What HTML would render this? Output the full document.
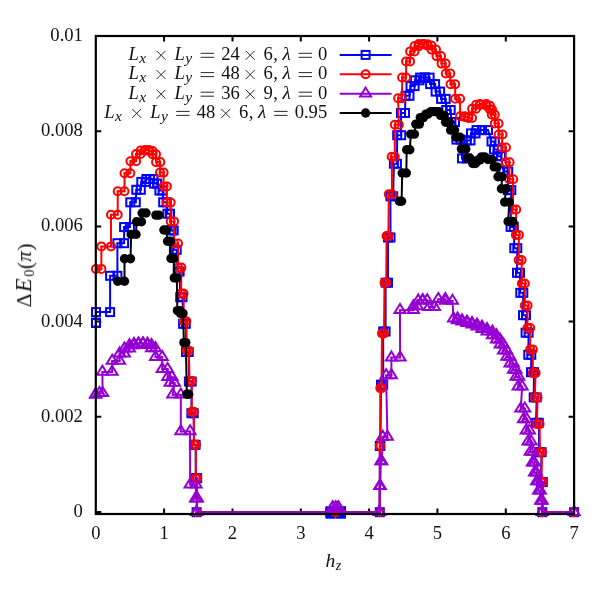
<!DOCTYPE html>
<html><head><meta charset="utf-8"><title>chart</title>
<style>html,body{margin:0;padding:0;background:#fff}body{width:598px;height:598px;position:relative;overflow:hidden;font-family:"Liberation Serif",serif}</style>
</head><body>
<svg width="598" height="598" viewBox="0 0 598 598" style="position:absolute;left:0;top:0">
<path d="M164.1 514.0V508.5M164.1 36.0V41.5M232.5 514.0V508.5M232.5 36.0V41.5M300.8 514.0V508.5M300.8 36.0V41.5M369.1 514.0V508.5M369.1 36.0V41.5M437.4 514.0V508.5M437.4 36.0V41.5M505.8 514.0V508.5M505.8 36.0V41.5M95.8 512.0H101.3M574.1 512.0H568.6M95.8 416.8H101.3M574.1 416.8H568.6M95.8 321.6H101.3M574.1 321.6H568.6M95.8 226.4H101.3M574.1 226.4H568.6M95.8 131.2H101.3M574.1 131.2H568.6M95.8 36.0H101.3M574.1 36.0H568.6" stroke="#000" stroke-width="2.0" fill="none"/>
<polyline fill="none" stroke="#0000ff" stroke-width="2.00" stroke-linejoin="miter" points="96.0,322.8 96.0,322.8 96.0,312.1 110.1,312.1 110.1,275.8 117.4,275.8 117.4,243.2 124.1,243.2 124.1,227.1 129.9,227.1 130.3,202.3 135.8,202.3 136.3,189.8 140.8,189.8 141.3,181.9 145.6,181.9 146.4,179.0 149.8,179.0 150.0,179.0 153.4,179.0 154.0,183.6 157.1,183.6 159.4,190.5 162.6,190.5 163.2,202.3 166.6,202.3 167.4,213.7 170.0,213.7 171.6,230.4 173.7,230.4 173.9,249.8 176.7,249.8 177.7,271.5 179.6,271.5 180.2,297.2 182.5,297.2 183.1,323.8 185.8,323.8 186.0,352.0 188.7,352.0 188.9,381.5 191.7,381.5 191.4,413.2 193.7,413.2 193.9,444.8 195.6,444.8 195.8,478.2 197.2,478.2 196.6,512.2 330.5,512.2 330.5,511.2 330.5,513.7 335.5,512.2 341.0,513.7 341.0,511.2 341.0,512.2 379.8,512.2 379.8,446.0 380.4,446.0 381.0,384.7 383.2,384.7 383.2,331.5 385.6,331.5 385.6,282.7 388.0,282.7 388.0,237.5 390.5,237.5 390.4,196.3 393.2,196.3 393.9,163.7 396.9,163.7 397.2,135.2 401.2,135.2 401.0,113.0 405.0,113.0 405.5,95.8 409.5,95.8 410.5,86.1 414.6,86.1 415.0,80.3 419.5,80.3 420.1,77.6 424.8,77.6 424.8,77.6 429.6,77.6 430.1,84.1 435.1,84.1 435.6,91.6 440.1,91.6 441.1,98.9 445.7,98.9 446.2,110.0 450.7,110.0 451.4,122.0 455.0,122.0 456.4,139.6 460.6,139.6 462.0,158.4 467.0,158.4 466.8,140.4 470.5,140.4 471.0,133.4 475.5,133.4 476.5,130.1 482.0,130.1 482.0,130.1 488.0,130.1 491.5,141.5 494.8,141.5 494.0,149.5 497.5,149.5 497.5,156.2 501.0,156.2 503.5,171.5 508.2,171.5 507.8,190.1 511.3,190.1 510.6,226.9 513.8,226.9 514.3,248.2 517.3,248.2 517.0,272.8 520.0,272.8 520.3,292.8 523.3,292.8 523.0,315.2 526.0,315.2 525.6,332.7 528.6,332.7 528.3,354.8 531.3,354.8 531.0,372.2 534.0,372.2 533.7,397.4 536.7,397.4 536.0,422.8 538.8,422.8 539.2,452.2 541.6,452.2 540.8,482.1 542.8,482.1 542.3,512.2 574.1,512.2"/>
<g fill="none" stroke="#0000ff" stroke-width="2.00"><rect x="92.0" y="318.8" width="8.0" height="8.0"/><rect x="92.0" y="318.8" width="8.0" height="8.0"/><rect x="92.0" y="308.1" width="8.0" height="8.0"/><rect x="106.1" y="308.1" width="8.0" height="8.0"/><rect x="106.1" y="271.8" width="8.0" height="8.0"/><rect x="113.4" y="271.8" width="8.0" height="8.0"/><rect x="113.4" y="239.2" width="8.0" height="8.0"/><rect x="120.1" y="239.2" width="8.0" height="8.0"/><rect x="120.1" y="223.1" width="8.0" height="8.0"/><rect x="125.9" y="223.1" width="8.0" height="8.0"/><rect x="126.3" y="198.3" width="8.0" height="8.0"/><rect x="131.8" y="198.3" width="8.0" height="8.0"/><rect x="132.3" y="185.8" width="8.0" height="8.0"/><rect x="136.8" y="185.8" width="8.0" height="8.0"/><rect x="137.3" y="177.9" width="8.0" height="8.0"/><rect x="141.6" y="177.9" width="8.0" height="8.0"/><rect x="142.4" y="175.0" width="8.0" height="8.0"/><rect x="145.8" y="175.0" width="8.0" height="8.0"/><rect x="146.0" y="175.0" width="8.0" height="8.0"/><rect x="149.4" y="175.0" width="8.0" height="8.0"/><rect x="150.0" y="179.6" width="8.0" height="8.0"/><rect x="153.1" y="179.6" width="8.0" height="8.0"/><rect x="155.4" y="186.5" width="8.0" height="8.0"/><rect x="158.6" y="186.5" width="8.0" height="8.0"/><rect x="159.2" y="198.3" width="8.0" height="8.0"/><rect x="162.6" y="198.3" width="8.0" height="8.0"/><rect x="163.4" y="209.7" width="8.0" height="8.0"/><rect x="166.0" y="209.7" width="8.0" height="8.0"/><rect x="167.6" y="226.4" width="8.0" height="8.0"/><rect x="169.7" y="226.4" width="8.0" height="8.0"/><rect x="169.9" y="245.8" width="8.0" height="8.0"/><rect x="172.7" y="245.8" width="8.0" height="8.0"/><rect x="173.7" y="267.5" width="8.0" height="8.0"/><rect x="175.6" y="267.5" width="8.0" height="8.0"/><rect x="176.2" y="293.2" width="8.0" height="8.0"/><rect x="178.5" y="293.2" width="8.0" height="8.0"/><rect x="179.1" y="319.8" width="8.0" height="8.0"/><rect x="181.8" y="319.8" width="8.0" height="8.0"/><rect x="182.0" y="348.0" width="8.0" height="8.0"/><rect x="184.7" y="348.0" width="8.0" height="8.0"/><rect x="184.9" y="377.5" width="8.0" height="8.0"/><rect x="187.7" y="377.5" width="8.0" height="8.0"/><rect x="187.4" y="409.2" width="8.0" height="8.0"/><rect x="189.7" y="409.2" width="8.0" height="8.0"/><rect x="189.9" y="440.8" width="8.0" height="8.0"/><rect x="191.6" y="440.8" width="8.0" height="8.0"/><rect x="191.8" y="474.2" width="8.0" height="8.0"/><rect x="193.2" y="474.2" width="8.0" height="8.0"/><rect x="192.6" y="508.2" width="8.0" height="8.0"/><rect x="326.5" y="508.2" width="8.0" height="8.0"/><rect x="326.5" y="507.2" width="8.0" height="8.0"/><rect x="326.5" y="509.7" width="8.0" height="8.0"/><rect x="331.5" y="508.2" width="8.0" height="8.0"/><rect x="337.0" y="509.7" width="8.0" height="8.0"/><rect x="337.0" y="507.2" width="8.0" height="8.0"/><rect x="337.0" y="508.2" width="8.0" height="8.0"/><rect x="375.8" y="508.2" width="8.0" height="8.0"/><rect x="375.8" y="442.0" width="8.0" height="8.0"/><rect x="376.4" y="442.0" width="8.0" height="8.0"/><rect x="377.0" y="380.7" width="8.0" height="8.0"/><rect x="379.2" y="380.7" width="8.0" height="8.0"/><rect x="379.2" y="327.5" width="8.0" height="8.0"/><rect x="381.6" y="327.5" width="8.0" height="8.0"/><rect x="381.6" y="278.7" width="8.0" height="8.0"/><rect x="384.0" y="278.7" width="8.0" height="8.0"/><rect x="384.0" y="233.5" width="8.0" height="8.0"/><rect x="386.5" y="233.5" width="8.0" height="8.0"/><rect x="386.4" y="192.3" width="8.0" height="8.0"/><rect x="389.2" y="192.3" width="8.0" height="8.0"/><rect x="389.9" y="159.7" width="8.0" height="8.0"/><rect x="392.9" y="159.7" width="8.0" height="8.0"/><rect x="393.2" y="131.2" width="8.0" height="8.0"/><rect x="397.2" y="131.2" width="8.0" height="8.0"/><rect x="397.0" y="109.0" width="8.0" height="8.0"/><rect x="401.0" y="109.0" width="8.0" height="8.0"/><rect x="401.5" y="91.8" width="8.0" height="8.0"/><rect x="405.5" y="91.8" width="8.0" height="8.0"/><rect x="406.5" y="82.1" width="8.0" height="8.0"/><rect x="410.6" y="82.1" width="8.0" height="8.0"/><rect x="411.0" y="76.3" width="8.0" height="8.0"/><rect x="415.5" y="76.3" width="8.0" height="8.0"/><rect x="416.1" y="73.6" width="8.0" height="8.0"/><rect x="420.8" y="73.6" width="8.0" height="8.0"/><rect x="420.8" y="73.6" width="8.0" height="8.0"/><rect x="425.6" y="73.6" width="8.0" height="8.0"/><rect x="426.1" y="80.1" width="8.0" height="8.0"/><rect x="431.1" y="80.1" width="8.0" height="8.0"/><rect x="431.6" y="87.6" width="8.0" height="8.0"/><rect x="436.1" y="87.6" width="8.0" height="8.0"/><rect x="437.1" y="94.9" width="8.0" height="8.0"/><rect x="441.7" y="94.9" width="8.0" height="8.0"/><rect x="442.2" y="106.0" width="8.0" height="8.0"/><rect x="446.7" y="106.0" width="8.0" height="8.0"/><rect x="447.4" y="118.0" width="8.0" height="8.0"/><rect x="451.0" y="118.0" width="8.0" height="8.0"/><rect x="452.4" y="135.6" width="8.0" height="8.0"/><rect x="456.6" y="135.6" width="8.0" height="8.0"/><rect x="458.0" y="154.4" width="8.0" height="8.0"/><rect x="463.0" y="154.4" width="8.0" height="8.0"/><rect x="462.8" y="136.4" width="8.0" height="8.0"/><rect x="466.5" y="136.4" width="8.0" height="8.0"/><rect x="467.0" y="129.4" width="8.0" height="8.0"/><rect x="471.5" y="129.4" width="8.0" height="8.0"/><rect x="472.5" y="126.1" width="8.0" height="8.0"/><rect x="478.0" y="126.1" width="8.0" height="8.0"/><rect x="478.0" y="126.1" width="8.0" height="8.0"/><rect x="484.0" y="126.1" width="8.0" height="8.0"/><rect x="487.5" y="137.5" width="8.0" height="8.0"/><rect x="490.8" y="137.5" width="8.0" height="8.0"/><rect x="490.0" y="145.5" width="8.0" height="8.0"/><rect x="493.5" y="145.5" width="8.0" height="8.0"/><rect x="493.5" y="152.2" width="8.0" height="8.0"/><rect x="497.0" y="152.2" width="8.0" height="8.0"/><rect x="499.5" y="167.5" width="8.0" height="8.0"/><rect x="504.2" y="167.5" width="8.0" height="8.0"/><rect x="503.8" y="186.1" width="8.0" height="8.0"/><rect x="507.3" y="186.1" width="8.0" height="8.0"/><rect x="506.6" y="222.9" width="8.0" height="8.0"/><rect x="509.8" y="222.9" width="8.0" height="8.0"/><rect x="510.3" y="244.2" width="8.0" height="8.0"/><rect x="513.3" y="244.2" width="8.0" height="8.0"/><rect x="513.0" y="268.8" width="8.0" height="8.0"/><rect x="516.0" y="268.8" width="8.0" height="8.0"/><rect x="516.3" y="288.8" width="8.0" height="8.0"/><rect x="519.3" y="288.8" width="8.0" height="8.0"/><rect x="519.0" y="311.2" width="8.0" height="8.0"/><rect x="522.0" y="311.2" width="8.0" height="8.0"/><rect x="521.6" y="328.7" width="8.0" height="8.0"/><rect x="524.6" y="328.7" width="8.0" height="8.0"/><rect x="524.3" y="350.8" width="8.0" height="8.0"/><rect x="527.3" y="350.8" width="8.0" height="8.0"/><rect x="527.0" y="368.2" width="8.0" height="8.0"/><rect x="530.0" y="368.2" width="8.0" height="8.0"/><rect x="529.7" y="393.4" width="8.0" height="8.0"/><rect x="532.7" y="393.4" width="8.0" height="8.0"/><rect x="532.0" y="418.8" width="8.0" height="8.0"/><rect x="534.8" y="418.8" width="8.0" height="8.0"/><rect x="535.2" y="448.2" width="8.0" height="8.0"/><rect x="537.6" y="448.2" width="8.0" height="8.0"/><rect x="536.8" y="478.1" width="8.0" height="8.0"/><rect x="538.8" y="478.1" width="8.0" height="8.0"/><rect x="538.3" y="508.2" width="8.0" height="8.0"/><rect x="570.1" y="508.2" width="8.0" height="8.0"/></g><g fill="#0000ff"><circle cx="96.0" cy="322.8" r="0.9"/><circle cx="96.0" cy="322.8" r="0.9"/><circle cx="96.0" cy="312.1" r="0.9"/><circle cx="110.1" cy="312.1" r="0.9"/><circle cx="110.1" cy="275.8" r="0.9"/><circle cx="117.4" cy="275.8" r="0.9"/><circle cx="117.4" cy="243.2" r="0.9"/><circle cx="124.1" cy="243.2" r="0.9"/><circle cx="124.1" cy="227.1" r="0.9"/><circle cx="129.9" cy="227.1" r="0.9"/><circle cx="130.3" cy="202.3" r="0.9"/><circle cx="135.8" cy="202.3" r="0.9"/><circle cx="136.3" cy="189.8" r="0.9"/><circle cx="140.8" cy="189.8" r="0.9"/><circle cx="141.3" cy="181.9" r="0.9"/><circle cx="145.6" cy="181.9" r="0.9"/><circle cx="146.4" cy="179.0" r="0.9"/><circle cx="149.8" cy="179.0" r="0.9"/><circle cx="150.0" cy="179.0" r="0.9"/><circle cx="153.4" cy="179.0" r="0.9"/><circle cx="154.0" cy="183.6" r="0.9"/><circle cx="157.1" cy="183.6" r="0.9"/><circle cx="159.4" cy="190.5" r="0.9"/><circle cx="162.6" cy="190.5" r="0.9"/><circle cx="163.2" cy="202.3" r="0.9"/><circle cx="166.6" cy="202.3" r="0.9"/><circle cx="167.4" cy="213.7" r="0.9"/><circle cx="170.0" cy="213.7" r="0.9"/><circle cx="171.6" cy="230.4" r="0.9"/><circle cx="173.7" cy="230.4" r="0.9"/><circle cx="173.9" cy="249.8" r="0.9"/><circle cx="176.7" cy="249.8" r="0.9"/><circle cx="177.7" cy="271.5" r="0.9"/><circle cx="179.6" cy="271.5" r="0.9"/><circle cx="180.2" cy="297.2" r="0.9"/><circle cx="182.5" cy="297.2" r="0.9"/><circle cx="183.1" cy="323.8" r="0.9"/><circle cx="185.8" cy="323.8" r="0.9"/><circle cx="186.0" cy="352.0" r="0.9"/><circle cx="188.7" cy="352.0" r="0.9"/><circle cx="188.9" cy="381.5" r="0.9"/><circle cx="191.7" cy="381.5" r="0.9"/><circle cx="191.4" cy="413.2" r="0.9"/><circle cx="193.7" cy="413.2" r="0.9"/><circle cx="193.9" cy="444.8" r="0.9"/><circle cx="195.6" cy="444.8" r="0.9"/><circle cx="195.8" cy="478.2" r="0.9"/><circle cx="197.2" cy="478.2" r="0.9"/><circle cx="196.6" cy="512.2" r="0.9"/><circle cx="330.5" cy="512.2" r="0.9"/><circle cx="330.5" cy="511.2" r="0.9"/><circle cx="330.5" cy="513.7" r="0.9"/><circle cx="335.5" cy="512.2" r="0.9"/><circle cx="341.0" cy="513.7" r="0.9"/><circle cx="341.0" cy="511.2" r="0.9"/><circle cx="341.0" cy="512.2" r="0.9"/><circle cx="379.8" cy="512.2" r="0.9"/><circle cx="379.8" cy="446.0" r="0.9"/><circle cx="380.4" cy="446.0" r="0.9"/><circle cx="381.0" cy="384.7" r="0.9"/><circle cx="383.2" cy="384.7" r="0.9"/><circle cx="383.2" cy="331.5" r="0.9"/><circle cx="385.6" cy="331.5" r="0.9"/><circle cx="385.6" cy="282.7" r="0.9"/><circle cx="388.0" cy="282.7" r="0.9"/><circle cx="388.0" cy="237.5" r="0.9"/><circle cx="390.5" cy="237.5" r="0.9"/><circle cx="390.4" cy="196.3" r="0.9"/><circle cx="393.2" cy="196.3" r="0.9"/><circle cx="393.9" cy="163.7" r="0.9"/><circle cx="396.9" cy="163.7" r="0.9"/><circle cx="397.2" cy="135.2" r="0.9"/><circle cx="401.2" cy="135.2" r="0.9"/><circle cx="401.0" cy="113.0" r="0.9"/><circle cx="405.0" cy="113.0" r="0.9"/><circle cx="405.5" cy="95.8" r="0.9"/><circle cx="409.5" cy="95.8" r="0.9"/><circle cx="410.5" cy="86.1" r="0.9"/><circle cx="414.6" cy="86.1" r="0.9"/><circle cx="415.0" cy="80.3" r="0.9"/><circle cx="419.5" cy="80.3" r="0.9"/><circle cx="420.1" cy="77.6" r="0.9"/><circle cx="424.8" cy="77.6" r="0.9"/><circle cx="424.8" cy="77.6" r="0.9"/><circle cx="429.6" cy="77.6" r="0.9"/><circle cx="430.1" cy="84.1" r="0.9"/><circle cx="435.1" cy="84.1" r="0.9"/><circle cx="435.6" cy="91.6" r="0.9"/><circle cx="440.1" cy="91.6" r="0.9"/><circle cx="441.1" cy="98.9" r="0.9"/><circle cx="445.7" cy="98.9" r="0.9"/><circle cx="446.2" cy="110.0" r="0.9"/><circle cx="450.7" cy="110.0" r="0.9"/><circle cx="451.4" cy="122.0" r="0.9"/><circle cx="455.0" cy="122.0" r="0.9"/><circle cx="456.4" cy="139.6" r="0.9"/><circle cx="460.6" cy="139.6" r="0.9"/><circle cx="462.0" cy="158.4" r="0.9"/><circle cx="467.0" cy="158.4" r="0.9"/><circle cx="466.8" cy="140.4" r="0.9"/><circle cx="470.5" cy="140.4" r="0.9"/><circle cx="471.0" cy="133.4" r="0.9"/><circle cx="475.5" cy="133.4" r="0.9"/><circle cx="476.5" cy="130.1" r="0.9"/><circle cx="482.0" cy="130.1" r="0.9"/><circle cx="482.0" cy="130.1" r="0.9"/><circle cx="488.0" cy="130.1" r="0.9"/><circle cx="491.5" cy="141.5" r="0.9"/><circle cx="494.8" cy="141.5" r="0.9"/><circle cx="494.0" cy="149.5" r="0.9"/><circle cx="497.5" cy="149.5" r="0.9"/><circle cx="497.5" cy="156.2" r="0.9"/><circle cx="501.0" cy="156.2" r="0.9"/><circle cx="503.5" cy="171.5" r="0.9"/><circle cx="508.2" cy="171.5" r="0.9"/><circle cx="507.8" cy="190.1" r="0.9"/><circle cx="511.3" cy="190.1" r="0.9"/><circle cx="510.6" cy="226.9" r="0.9"/><circle cx="513.8" cy="226.9" r="0.9"/><circle cx="514.3" cy="248.2" r="0.9"/><circle cx="517.3" cy="248.2" r="0.9"/><circle cx="517.0" cy="272.8" r="0.9"/><circle cx="520.0" cy="272.8" r="0.9"/><circle cx="520.3" cy="292.8" r="0.9"/><circle cx="523.3" cy="292.8" r="0.9"/><circle cx="523.0" cy="315.2" r="0.9"/><circle cx="526.0" cy="315.2" r="0.9"/><circle cx="525.6" cy="332.7" r="0.9"/><circle cx="528.6" cy="332.7" r="0.9"/><circle cx="528.3" cy="354.8" r="0.9"/><circle cx="531.3" cy="354.8" r="0.9"/><circle cx="531.0" cy="372.2" r="0.9"/><circle cx="534.0" cy="372.2" r="0.9"/><circle cx="533.7" cy="397.4" r="0.9"/><circle cx="536.7" cy="397.4" r="0.9"/><circle cx="536.0" cy="422.8" r="0.9"/><circle cx="538.8" cy="422.8" r="0.9"/><circle cx="539.2" cy="452.2" r="0.9"/><circle cx="541.6" cy="452.2" r="0.9"/><circle cx="540.8" cy="482.1" r="0.9"/><circle cx="542.8" cy="482.1" r="0.9"/><circle cx="542.3" cy="512.2" r="0.9"/><circle cx="574.1" cy="512.2" r="0.9"/></g>
<polyline fill="none" stroke="#ff0000" stroke-width="2.00" stroke-linejoin="miter" points="96.0,268.9 101.4,268.9 101.4,246.4 111.0,246.4 111.0,214.7 117.7,214.7 117.7,191.2 124.5,191.2 124.5,173.2 130.3,173.2 130.4,161.2 136.1,161.2 136.1,154.0 140.6,154.0 140.6,150.5 145.1,150.5 145.1,150.0 149.1,150.0 149.1,151.0 152.6,151.0 152.6,154.2 156.0,154.2 156.0,162.1 160.3,162.1 160.0,172.6 163.6,172.6 163.6,186.4 166.9,186.4 166.7,202.6 170.7,202.6 170.7,221.4 174.1,221.4 174.1,243.5 178.1,243.5 178.1,267.6 181.4,267.6 181.0,293.6 183.6,293.6 183.8,321.3 186.3,321.3 186.7,350.5 188.8,350.5 189.6,380.9 191.7,380.9 191.7,411.8 193.8,411.8 194.0,444.8 196.0,444.8 195.8,478.2 197.2,478.2 196.8,512.2 335.5,512.2 335.5,512.2 379.8,512.2 379.8,446.0 380.2,446.0 380.3,388.1 381.5,388.1 382.0,333.5 384.0,333.5 384.5,282.7 386.2,282.7 386.6,236.1 388.4,236.1 388.8,194.2 392.1,194.2 391.7,156.8 394.8,156.8 394.8,124.7 398.8,124.7 398.1,98.2 402.1,98.2 402.1,77.5 406.1,77.5 406.1,61.4 410.1,61.4 410.1,51.4 414.6,51.4 414.6,46.1 418.8,46.1 418.8,44.0 423.2,44.0 423.2,44.2 427.5,44.2 427.5,45.6 431.5,45.6 431.5,49.6 436.0,49.6 436.5,56.1 441.0,56.1 441.5,63.6 445.6,63.6 445.8,73.5 450.3,73.5 450.5,84.2 455.2,84.2 455.2,98.8 460.1,98.8 460.1,116.2 464.7,116.2 464.7,116.9 468.3,116.9 468.3,118.0 472.1,118.0 472.1,108.8 476.1,108.8 476.1,104.8 480.1,104.8 480.1,104.1 486.2,104.1 486.2,105.8 490.0,105.8 490.0,109.5 492.0,109.5 491.8,114.8 494.8,114.8 494.8,123.5 498.6,123.5 498.6,134.5 502.5,134.5 501.8,147.5 506.0,147.5 505.6,162.2 509.6,162.2 509.2,179.2 513.2,179.2 512.8,209.5 516.2,209.5 515.9,234.9 518.9,234.9 518.7,260.1 521.6,260.1 521.9,283.5 524.8,283.5 524.8,305.6 527.6,305.6 527.4,328.1 530.2,328.1 530.1,349.5 532.9,349.5 532.8,372.9 535.6,372.9 534.8,397.4 537.6,397.4 536.9,424.1 539.6,424.1 540.0,452.2 542.0,452.2 541.5,482.1 543.0,482.1 542.3,512.2 574.1,512.2"/>
<g fill="none" stroke="#ff0000" stroke-width="2.00"><circle cx="96.0" cy="268.9" r="4.0"/><circle cx="101.4" cy="268.9" r="4.0"/><circle cx="101.4" cy="246.4" r="4.0"/><circle cx="111.0" cy="246.4" r="4.0"/><circle cx="111.0" cy="214.7" r="4.0"/><circle cx="117.7" cy="214.7" r="4.0"/><circle cx="117.7" cy="191.2" r="4.0"/><circle cx="124.5" cy="191.2" r="4.0"/><circle cx="124.5" cy="173.2" r="4.0"/><circle cx="130.3" cy="173.2" r="4.0"/><circle cx="130.4" cy="161.2" r="4.0"/><circle cx="136.1" cy="161.2" r="4.0"/><circle cx="136.1" cy="154.0" r="4.0"/><circle cx="140.6" cy="154.0" r="4.0"/><circle cx="140.6" cy="150.5" r="4.0"/><circle cx="145.1" cy="150.5" r="4.0"/><circle cx="145.1" cy="150.0" r="4.0"/><circle cx="149.1" cy="150.0" r="4.0"/><circle cx="149.1" cy="151.0" r="4.0"/><circle cx="152.6" cy="151.0" r="4.0"/><circle cx="152.6" cy="154.2" r="4.0"/><circle cx="156.0" cy="154.2" r="4.0"/><circle cx="156.0" cy="162.1" r="4.0"/><circle cx="160.3" cy="162.1" r="4.0"/><circle cx="160.0" cy="172.6" r="4.0"/><circle cx="163.6" cy="172.6" r="4.0"/><circle cx="163.6" cy="186.4" r="4.0"/><circle cx="166.9" cy="186.4" r="4.0"/><circle cx="166.7" cy="202.6" r="4.0"/><circle cx="170.7" cy="202.6" r="4.0"/><circle cx="170.7" cy="221.4" r="4.0"/><circle cx="174.1" cy="221.4" r="4.0"/><circle cx="174.1" cy="243.5" r="4.0"/><circle cx="178.1" cy="243.5" r="4.0"/><circle cx="178.1" cy="267.6" r="4.0"/><circle cx="181.4" cy="267.6" r="4.0"/><circle cx="181.0" cy="293.6" r="4.0"/><circle cx="183.6" cy="293.6" r="4.0"/><circle cx="183.8" cy="321.3" r="4.0"/><circle cx="186.3" cy="321.3" r="4.0"/><circle cx="186.7" cy="350.5" r="4.0"/><circle cx="188.8" cy="350.5" r="4.0"/><circle cx="189.6" cy="380.9" r="4.0"/><circle cx="191.7" cy="380.9" r="4.0"/><circle cx="191.7" cy="411.8" r="4.0"/><circle cx="193.8" cy="411.8" r="4.0"/><circle cx="194.0" cy="444.8" r="4.0"/><circle cx="196.0" cy="444.8" r="4.0"/><circle cx="195.8" cy="478.2" r="4.0"/><circle cx="197.2" cy="478.2" r="4.0"/><circle cx="196.8" cy="512.2" r="4.0"/><circle cx="335.5" cy="512.2" r="4.0"/><circle cx="335.5" cy="512.2" r="4.0"/><circle cx="379.8" cy="512.2" r="4.0"/><circle cx="379.8" cy="446.0" r="4.0"/><circle cx="380.2" cy="446.0" r="4.0"/><circle cx="380.3" cy="388.1" r="4.0"/><circle cx="381.5" cy="388.1" r="4.0"/><circle cx="382.0" cy="333.5" r="4.0"/><circle cx="384.0" cy="333.5" r="4.0"/><circle cx="384.5" cy="282.7" r="4.0"/><circle cx="386.2" cy="282.7" r="4.0"/><circle cx="386.6" cy="236.1" r="4.0"/><circle cx="388.4" cy="236.1" r="4.0"/><circle cx="388.8" cy="194.2" r="4.0"/><circle cx="392.1" cy="194.2" r="4.0"/><circle cx="391.7" cy="156.8" r="4.0"/><circle cx="394.8" cy="156.8" r="4.0"/><circle cx="394.8" cy="124.7" r="4.0"/><circle cx="398.8" cy="124.7" r="4.0"/><circle cx="398.1" cy="98.2" r="4.0"/><circle cx="402.1" cy="98.2" r="4.0"/><circle cx="402.1" cy="77.5" r="4.0"/><circle cx="406.1" cy="77.5" r="4.0"/><circle cx="406.1" cy="61.4" r="4.0"/><circle cx="410.1" cy="61.4" r="4.0"/><circle cx="410.1" cy="51.4" r="4.0"/><circle cx="414.6" cy="51.4" r="4.0"/><circle cx="414.6" cy="46.1" r="4.0"/><circle cx="418.8" cy="46.1" r="4.0"/><circle cx="418.8" cy="44.0" r="4.0"/><circle cx="423.2" cy="44.0" r="4.0"/><circle cx="423.2" cy="44.2" r="4.0"/><circle cx="427.5" cy="44.2" r="4.0"/><circle cx="427.5" cy="45.6" r="4.0"/><circle cx="431.5" cy="45.6" r="4.0"/><circle cx="431.5" cy="49.6" r="4.0"/><circle cx="436.0" cy="49.6" r="4.0"/><circle cx="436.5" cy="56.1" r="4.0"/><circle cx="441.0" cy="56.1" r="4.0"/><circle cx="441.5" cy="63.6" r="4.0"/><circle cx="445.6" cy="63.6" r="4.0"/><circle cx="445.8" cy="73.5" r="4.0"/><circle cx="450.3" cy="73.5" r="4.0"/><circle cx="450.5" cy="84.2" r="4.0"/><circle cx="455.2" cy="84.2" r="4.0"/><circle cx="455.2" cy="98.8" r="4.0"/><circle cx="460.1" cy="98.8" r="4.0"/><circle cx="460.1" cy="116.2" r="4.0"/><circle cx="464.7" cy="116.2" r="4.0"/><circle cx="464.7" cy="116.9" r="4.0"/><circle cx="468.3" cy="116.9" r="4.0"/><circle cx="468.3" cy="118.0" r="4.0"/><circle cx="472.1" cy="118.0" r="4.0"/><circle cx="472.1" cy="108.8" r="4.0"/><circle cx="476.1" cy="108.8" r="4.0"/><circle cx="476.1" cy="104.8" r="4.0"/><circle cx="480.1" cy="104.8" r="4.0"/><circle cx="480.1" cy="104.1" r="4.0"/><circle cx="486.2" cy="104.1" r="4.0"/><circle cx="486.2" cy="105.8" r="4.0"/><circle cx="490.0" cy="105.8" r="4.0"/><circle cx="490.0" cy="109.5" r="4.0"/><circle cx="492.0" cy="109.5" r="4.0"/><circle cx="491.8" cy="114.8" r="4.0"/><circle cx="494.8" cy="114.8" r="4.0"/><circle cx="494.8" cy="123.5" r="4.0"/><circle cx="498.6" cy="123.5" r="4.0"/><circle cx="498.6" cy="134.5" r="4.0"/><circle cx="502.5" cy="134.5" r="4.0"/><circle cx="501.8" cy="147.5" r="4.0"/><circle cx="506.0" cy="147.5" r="4.0"/><circle cx="505.6" cy="162.2" r="4.0"/><circle cx="509.6" cy="162.2" r="4.0"/><circle cx="509.2" cy="179.2" r="4.0"/><circle cx="513.2" cy="179.2" r="4.0"/><circle cx="512.8" cy="209.5" r="4.0"/><circle cx="516.2" cy="209.5" r="4.0"/><circle cx="515.9" cy="234.9" r="4.0"/><circle cx="518.9" cy="234.9" r="4.0"/><circle cx="518.7" cy="260.1" r="4.0"/><circle cx="521.6" cy="260.1" r="4.0"/><circle cx="521.9" cy="283.5" r="4.0"/><circle cx="524.8" cy="283.5" r="4.0"/><circle cx="524.8" cy="305.6" r="4.0"/><circle cx="527.6" cy="305.6" r="4.0"/><circle cx="527.4" cy="328.1" r="4.0"/><circle cx="530.2" cy="328.1" r="4.0"/><circle cx="530.1" cy="349.5" r="4.0"/><circle cx="532.9" cy="349.5" r="4.0"/><circle cx="532.8" cy="372.9" r="4.0"/><circle cx="535.6" cy="372.9" r="4.0"/><circle cx="534.8" cy="397.4" r="4.0"/><circle cx="537.6" cy="397.4" r="4.0"/><circle cx="536.9" cy="424.1" r="4.0"/><circle cx="539.6" cy="424.1" r="4.0"/><circle cx="540.0" cy="452.2" r="4.0"/><circle cx="542.0" cy="452.2" r="4.0"/><circle cx="541.5" cy="482.1" r="4.0"/><circle cx="543.0" cy="482.1" r="4.0"/><circle cx="542.3" cy="512.2" r="4.0"/><circle cx="574.1" cy="512.2" r="4.0"/></g><g fill="#ff0000"><circle cx="96.0" cy="268.9" r="0.9"/><circle cx="101.4" cy="268.9" r="0.9"/><circle cx="101.4" cy="246.4" r="0.9"/><circle cx="111.0" cy="246.4" r="0.9"/><circle cx="111.0" cy="214.7" r="0.9"/><circle cx="117.7" cy="214.7" r="0.9"/><circle cx="117.7" cy="191.2" r="0.9"/><circle cx="124.5" cy="191.2" r="0.9"/><circle cx="124.5" cy="173.2" r="0.9"/><circle cx="130.3" cy="173.2" r="0.9"/><circle cx="130.4" cy="161.2" r="0.9"/><circle cx="136.1" cy="161.2" r="0.9"/><circle cx="136.1" cy="154.0" r="0.9"/><circle cx="140.6" cy="154.0" r="0.9"/><circle cx="140.6" cy="150.5" r="0.9"/><circle cx="145.1" cy="150.5" r="0.9"/><circle cx="145.1" cy="150.0" r="0.9"/><circle cx="149.1" cy="150.0" r="0.9"/><circle cx="149.1" cy="151.0" r="0.9"/><circle cx="152.6" cy="151.0" r="0.9"/><circle cx="152.6" cy="154.2" r="0.9"/><circle cx="156.0" cy="154.2" r="0.9"/><circle cx="156.0" cy="162.1" r="0.9"/><circle cx="160.3" cy="162.1" r="0.9"/><circle cx="160.0" cy="172.6" r="0.9"/><circle cx="163.6" cy="172.6" r="0.9"/><circle cx="163.6" cy="186.4" r="0.9"/><circle cx="166.9" cy="186.4" r="0.9"/><circle cx="166.7" cy="202.6" r="0.9"/><circle cx="170.7" cy="202.6" r="0.9"/><circle cx="170.7" cy="221.4" r="0.9"/><circle cx="174.1" cy="221.4" r="0.9"/><circle cx="174.1" cy="243.5" r="0.9"/><circle cx="178.1" cy="243.5" r="0.9"/><circle cx="178.1" cy="267.6" r="0.9"/><circle cx="181.4" cy="267.6" r="0.9"/><circle cx="181.0" cy="293.6" r="0.9"/><circle cx="183.6" cy="293.6" r="0.9"/><circle cx="183.8" cy="321.3" r="0.9"/><circle cx="186.3" cy="321.3" r="0.9"/><circle cx="186.7" cy="350.5" r="0.9"/><circle cx="188.8" cy="350.5" r="0.9"/><circle cx="189.6" cy="380.9" r="0.9"/><circle cx="191.7" cy="380.9" r="0.9"/><circle cx="191.7" cy="411.8" r="0.9"/><circle cx="193.8" cy="411.8" r="0.9"/><circle cx="194.0" cy="444.8" r="0.9"/><circle cx="196.0" cy="444.8" r="0.9"/><circle cx="195.8" cy="478.2" r="0.9"/><circle cx="197.2" cy="478.2" r="0.9"/><circle cx="196.8" cy="512.2" r="0.9"/><circle cx="335.5" cy="512.2" r="0.9"/><circle cx="335.5" cy="512.2" r="0.9"/><circle cx="379.8" cy="512.2" r="0.9"/><circle cx="379.8" cy="446.0" r="0.9"/><circle cx="380.2" cy="446.0" r="0.9"/><circle cx="380.3" cy="388.1" r="0.9"/><circle cx="381.5" cy="388.1" r="0.9"/><circle cx="382.0" cy="333.5" r="0.9"/><circle cx="384.0" cy="333.5" r="0.9"/><circle cx="384.5" cy="282.7" r="0.9"/><circle cx="386.2" cy="282.7" r="0.9"/><circle cx="386.6" cy="236.1" r="0.9"/><circle cx="388.4" cy="236.1" r="0.9"/><circle cx="388.8" cy="194.2" r="0.9"/><circle cx="392.1" cy="194.2" r="0.9"/><circle cx="391.7" cy="156.8" r="0.9"/><circle cx="394.8" cy="156.8" r="0.9"/><circle cx="394.8" cy="124.7" r="0.9"/><circle cx="398.8" cy="124.7" r="0.9"/><circle cx="398.1" cy="98.2" r="0.9"/><circle cx="402.1" cy="98.2" r="0.9"/><circle cx="402.1" cy="77.5" r="0.9"/><circle cx="406.1" cy="77.5" r="0.9"/><circle cx="406.1" cy="61.4" r="0.9"/><circle cx="410.1" cy="61.4" r="0.9"/><circle cx="410.1" cy="51.4" r="0.9"/><circle cx="414.6" cy="51.4" r="0.9"/><circle cx="414.6" cy="46.1" r="0.9"/><circle cx="418.8" cy="46.1" r="0.9"/><circle cx="418.8" cy="44.0" r="0.9"/><circle cx="423.2" cy="44.0" r="0.9"/><circle cx="423.2" cy="44.2" r="0.9"/><circle cx="427.5" cy="44.2" r="0.9"/><circle cx="427.5" cy="45.6" r="0.9"/><circle cx="431.5" cy="45.6" r="0.9"/><circle cx="431.5" cy="49.6" r="0.9"/><circle cx="436.0" cy="49.6" r="0.9"/><circle cx="436.5" cy="56.1" r="0.9"/><circle cx="441.0" cy="56.1" r="0.9"/><circle cx="441.5" cy="63.6" r="0.9"/><circle cx="445.6" cy="63.6" r="0.9"/><circle cx="445.8" cy="73.5" r="0.9"/><circle cx="450.3" cy="73.5" r="0.9"/><circle cx="450.5" cy="84.2" r="0.9"/><circle cx="455.2" cy="84.2" r="0.9"/><circle cx="455.2" cy="98.8" r="0.9"/><circle cx="460.1" cy="98.8" r="0.9"/><circle cx="460.1" cy="116.2" r="0.9"/><circle cx="464.7" cy="116.2" r="0.9"/><circle cx="464.7" cy="116.9" r="0.9"/><circle cx="468.3" cy="116.9" r="0.9"/><circle cx="468.3" cy="118.0" r="0.9"/><circle cx="472.1" cy="118.0" r="0.9"/><circle cx="472.1" cy="108.8" r="0.9"/><circle cx="476.1" cy="108.8" r="0.9"/><circle cx="476.1" cy="104.8" r="0.9"/><circle cx="480.1" cy="104.8" r="0.9"/><circle cx="480.1" cy="104.1" r="0.9"/><circle cx="486.2" cy="104.1" r="0.9"/><circle cx="486.2" cy="105.8" r="0.9"/><circle cx="490.0" cy="105.8" r="0.9"/><circle cx="490.0" cy="109.5" r="0.9"/><circle cx="492.0" cy="109.5" r="0.9"/><circle cx="491.8" cy="114.8" r="0.9"/><circle cx="494.8" cy="114.8" r="0.9"/><circle cx="494.8" cy="123.5" r="0.9"/><circle cx="498.6" cy="123.5" r="0.9"/><circle cx="498.6" cy="134.5" r="0.9"/><circle cx="502.5" cy="134.5" r="0.9"/><circle cx="501.8" cy="147.5" r="0.9"/><circle cx="506.0" cy="147.5" r="0.9"/><circle cx="505.6" cy="162.2" r="0.9"/><circle cx="509.6" cy="162.2" r="0.9"/><circle cx="509.2" cy="179.2" r="0.9"/><circle cx="513.2" cy="179.2" r="0.9"/><circle cx="512.8" cy="209.5" r="0.9"/><circle cx="516.2" cy="209.5" r="0.9"/><circle cx="515.9" cy="234.9" r="0.9"/><circle cx="518.9" cy="234.9" r="0.9"/><circle cx="518.7" cy="260.1" r="0.9"/><circle cx="521.6" cy="260.1" r="0.9"/><circle cx="521.9" cy="283.5" r="0.9"/><circle cx="524.8" cy="283.5" r="0.9"/><circle cx="524.8" cy="305.6" r="0.9"/><circle cx="527.6" cy="305.6" r="0.9"/><circle cx="527.4" cy="328.1" r="0.9"/><circle cx="530.2" cy="328.1" r="0.9"/><circle cx="530.1" cy="349.5" r="0.9"/><circle cx="532.9" cy="349.5" r="0.9"/><circle cx="532.8" cy="372.9" r="0.9"/><circle cx="535.6" cy="372.9" r="0.9"/><circle cx="534.8" cy="397.4" r="0.9"/><circle cx="537.6" cy="397.4" r="0.9"/><circle cx="536.9" cy="424.1" r="0.9"/><circle cx="539.6" cy="424.1" r="0.9"/><circle cx="540.0" cy="452.2" r="0.9"/><circle cx="542.0" cy="452.2" r="0.9"/><circle cx="541.5" cy="482.1" r="0.9"/><circle cx="543.0" cy="482.1" r="0.9"/><circle cx="542.3" cy="512.2" r="0.9"/><circle cx="574.1" cy="512.2" r="0.9"/></g>
<polyline fill="none" stroke="#9400d3" stroke-width="2.00" stroke-linejoin="miter" points="95.6,394.7 95.6,394.7 99.4,393.2 102.6,393.2 102.4,371.9 112.1,371.9 112.2,360.9 119.6,360.9 119.6,353.6 124.4,353.6 124.4,348.6 129.4,348.6 129.4,345.4 134.0,345.4 134.0,344.0 138.5,344.0 138.5,343.6 143.0,343.6 143.0,343.8 147.5,343.8 147.5,345.2 151.5,345.2 151.5,348.4 155.5,348.4 155.5,357.1 162.2,357.1 162.2,369.1 167.6,369.1 167.6,377.2 172.0,377.2 170.0,383.0 174.5,383.0 172.7,394.8 180.8,394.8 180.8,431.4 190.1,431.4 190.1,484.6 196.1,484.6 195.5,498.6 197.5,498.6 196.6,512.2 196.6,512.2 332.7,512.2 332.7,507.5 332.7,507.5 335.7,507.5 335.7,507.5 338.4,507.5 338.4,507.5 338.4,512.2 379.4,512.2 379.4,512.2 379.6,486.2 380.3,486.2 380.8,461.4 381.8,461.4 382.7,436.9 387.4,436.9 386.1,375.4 391.4,375.4 391.4,357.6 400.1,357.6 400.0,310.2 413.4,310.2 413.4,306.5 417.4,306.5 418.2,300.6 422.7,300.6 422.7,300.4 427.2,300.4 429.0,307.2 434.5,307.2 438.3,299.2 445.3,299.2 445.3,301.0 452.5,301.0 453.5,318.6 457.5,318.6 457.5,320.4 462.0,320.4 462.0,321.8 467.0,321.8 467.0,323.2 472.0,323.2 472.0,324.6 477.0,324.6 477.0,326.8 482.0,326.8 482.0,329.2 487.0,329.2 487.0,331.8 492.4,331.8 492.4,335.4 496.4,335.4 496.4,339.8 500.1,339.8 500.1,344.8 503.5,344.8 503.5,350.8 506.8,350.8 506.8,357.0 510.0,357.0 510.0,363.8 513.4,363.8 513.4,370.0 516.0,370.0 516.0,376.9 518.8,376.9 518.1,386.7 522.1,386.7 520.8,408.8 524.8,408.8 523.5,419.5 526.8,419.5 526.2,430.8 529.5,430.8 528.0,441.8 531.2,441.8 530.2,452.0 532.8,452.0 532.4,462.7 534.4,462.7 534.5,472.8 536.5,472.8 536.6,481.5 538.4,481.5 538.6,490.8 540.4,490.8 540.6,500.9 542.2,500.9 542.1,512.2 574.1,512.2"/>
<g fill="none" stroke="#9400d3" stroke-width="2.00" stroke-linejoin="miter"><path d="M95.6 388.5L90.1 397.5L101.1 397.5Z"/><path d="M95.6 388.5L90.1 397.5L101.1 397.5Z"/><path d="M99.4 387.0L93.9 396.0L104.9 396.0Z"/><path d="M102.6 387.0L97.1 396.0L108.1 396.0Z"/><path d="M102.4 365.7L96.9 374.7L107.9 374.7Z"/><path d="M112.1 365.7L106.6 374.7L117.6 374.7Z"/><path d="M112.2 354.7L106.7 363.7L117.7 363.7Z"/><path d="M119.6 354.7L114.1 363.7L125.1 363.7Z"/><path d="M119.6 347.4L114.1 356.4L125.1 356.4Z"/><path d="M124.4 347.4L118.9 356.4L129.9 356.4Z"/><path d="M124.4 342.4L118.9 351.4L129.9 351.4Z"/><path d="M129.4 342.4L123.9 351.4L134.9 351.4Z"/><path d="M129.4 339.2L123.9 348.2L134.9 348.2Z"/><path d="M134.0 339.2L128.5 348.2L139.5 348.2Z"/><path d="M134.0 337.8L128.5 346.8L139.5 346.8Z"/><path d="M138.5 337.8L133.0 346.8L144.0 346.8Z"/><path d="M138.5 337.4L133.0 346.4L144.0 346.4Z"/><path d="M143.0 337.4L137.5 346.4L148.5 346.4Z"/><path d="M143.0 337.6L137.5 346.6L148.5 346.6Z"/><path d="M147.5 337.6L142.0 346.6L153.0 346.6Z"/><path d="M147.5 339.0L142.0 348.0L153.0 348.0Z"/><path d="M151.5 339.0L146.0 348.0L157.0 348.0Z"/><path d="M151.5 342.2L146.0 351.2L157.0 351.2Z"/><path d="M155.5 342.2L150.0 351.2L161.0 351.2Z"/><path d="M155.5 350.9L150.0 359.9L161.0 359.9Z"/><path d="M162.2 350.9L156.7 359.9L167.7 359.9Z"/><path d="M162.2 362.9L156.7 371.9L167.7 371.9Z"/><path d="M167.6 362.9L162.1 371.9L173.1 371.9Z"/><path d="M167.6 371.0L162.1 380.0L173.1 380.0Z"/><path d="M172.0 371.0L166.5 380.0L177.5 380.0Z"/><path d="M170.0 376.8L164.5 385.8L175.5 385.8Z"/><path d="M174.5 376.8L169.0 385.8L180.0 385.8Z"/><path d="M172.7 388.6L167.2 397.6L178.2 397.6Z"/><path d="M180.8 388.6L175.3 397.6L186.3 397.6Z"/><path d="M180.8 425.2L175.3 434.2L186.3 434.2Z"/><path d="M190.1 425.2L184.6 434.2L195.6 434.2Z"/><path d="M190.1 478.4L184.6 487.4L195.6 487.4Z"/><path d="M196.1 478.4L190.6 487.4L201.6 487.4Z"/><path d="M195.5 492.4L190.0 501.4L201.0 501.4Z"/><path d="M197.5 492.4L192.0 501.4L203.0 501.4Z"/><path d="M196.6 506.0L191.1 515.0L202.1 515.0Z"/><path d="M196.6 506.0L191.1 515.0L202.1 515.0Z"/><path d="M332.7 501.3L327.2 510.3L338.2 510.3Z"/><path d="M332.7 501.3L327.2 510.3L338.2 510.3Z"/><path d="M335.7 501.3L330.2 510.3L341.2 510.3Z"/><path d="M335.7 501.3L330.2 510.3L341.2 510.3Z"/><path d="M338.4 501.3L332.9 510.3L343.9 510.3Z"/><path d="M338.4 501.3L332.9 510.3L343.9 510.3Z"/><path d="M379.4 506.0L373.9 515.0L384.9 515.0Z"/><path d="M379.4 506.0L373.9 515.0L384.9 515.0Z"/><path d="M379.6 480.0L374.1 489.0L385.1 489.0Z"/><path d="M380.3 480.0L374.8 489.0L385.8 489.0Z"/><path d="M380.8 455.2L375.3 464.2L386.3 464.2Z"/><path d="M381.8 455.2L376.3 464.2L387.3 464.2Z"/><path d="M382.7 430.7L377.2 439.7L388.2 439.7Z"/><path d="M387.4 430.7L381.9 439.7L392.9 439.7Z"/><path d="M386.1 369.2L380.6 378.2L391.6 378.2Z"/><path d="M391.4 369.2L385.9 378.2L396.9 378.2Z"/><path d="M391.4 351.4L385.9 360.4L396.9 360.4Z"/><path d="M400.1 351.4L394.6 360.4L405.6 360.4Z"/><path d="M400.0 304.0L394.5 313.0L405.5 313.0Z"/><path d="M413.4 304.0L407.9 313.0L418.9 313.0Z"/><path d="M413.4 300.3L407.9 309.3L418.9 309.3Z"/><path d="M417.4 300.3L411.9 309.3L422.9 309.3Z"/><path d="M418.2 294.4L412.7 303.4L423.7 303.4Z"/><path d="M422.7 294.4L417.2 303.4L428.2 303.4Z"/><path d="M422.7 294.2L417.2 303.2L428.2 303.2Z"/><path d="M427.2 294.2L421.7 303.2L432.7 303.2Z"/><path d="M429.0 301.0L423.5 310.0L434.5 310.0Z"/><path d="M434.5 301.0L429.0 310.0L440.0 310.0Z"/><path d="M438.3 293.0L432.8 302.0L443.8 302.0Z"/><path d="M445.3 293.0L439.8 302.0L450.8 302.0Z"/><path d="M445.3 294.8L439.8 303.8L450.8 303.8Z"/><path d="M452.5 294.8L447.0 303.8L458.0 303.8Z"/><path d="M453.5 312.4L448.0 321.4L459.0 321.4Z"/><path d="M457.5 312.4L452.0 321.4L463.0 321.4Z"/><path d="M457.5 314.2L452.0 323.2L463.0 323.2Z"/><path d="M462.0 314.2L456.5 323.2L467.5 323.2Z"/><path d="M462.0 315.6L456.5 324.6L467.5 324.6Z"/><path d="M467.0 315.6L461.5 324.6L472.5 324.6Z"/><path d="M467.0 317.0L461.5 326.0L472.5 326.0Z"/><path d="M472.0 317.0L466.5 326.0L477.5 326.0Z"/><path d="M472.0 318.4L466.5 327.4L477.5 327.4Z"/><path d="M477.0 318.4L471.5 327.4L482.5 327.4Z"/><path d="M477.0 320.6L471.5 329.6L482.5 329.6Z"/><path d="M482.0 320.6L476.5 329.6L487.5 329.6Z"/><path d="M482.0 323.0L476.5 332.0L487.5 332.0Z"/><path d="M487.0 323.0L481.5 332.0L492.5 332.0Z"/><path d="M487.0 325.6L481.5 334.6L492.5 334.6Z"/><path d="M492.4 325.6L486.9 334.6L497.9 334.6Z"/><path d="M492.4 329.2L486.9 338.2L497.9 338.2Z"/><path d="M496.4 329.2L490.9 338.2L501.9 338.2Z"/><path d="M496.4 333.6L490.9 342.6L501.9 342.6Z"/><path d="M500.1 333.6L494.6 342.6L505.6 342.6Z"/><path d="M500.1 338.6L494.6 347.6L505.6 347.6Z"/><path d="M503.5 338.6L498.0 347.6L509.0 347.6Z"/><path d="M503.5 344.6L498.0 353.6L509.0 353.6Z"/><path d="M506.8 344.6L501.3 353.6L512.3 353.6Z"/><path d="M506.8 350.8L501.3 359.8L512.3 359.8Z"/><path d="M510.0 350.8L504.5 359.8L515.5 359.8Z"/><path d="M510.0 357.6L504.5 366.6L515.5 366.6Z"/><path d="M513.4 357.6L507.9 366.6L518.9 366.6Z"/><path d="M513.4 363.8L507.9 372.8L518.9 372.8Z"/><path d="M516.0 363.8L510.5 372.8L521.5 372.8Z"/><path d="M516.0 370.7L510.5 379.7L521.5 379.7Z"/><path d="M518.8 370.7L513.3 379.7L524.3 379.7Z"/><path d="M518.1 380.5L512.6 389.5L523.6 389.5Z"/><path d="M522.1 380.5L516.6 389.5L527.6 389.5Z"/><path d="M520.8 402.6L515.3 411.6L526.3 411.6Z"/><path d="M524.8 402.6L519.3 411.6L530.3 411.6Z"/><path d="M523.5 413.3L518.0 422.3L529.0 422.3Z"/><path d="M526.8 413.3L521.3 422.3L532.3 422.3Z"/><path d="M526.2 424.6L520.7 433.6L531.7 433.6Z"/><path d="M529.5 424.6L524.0 433.6L535.0 433.6Z"/><path d="M528.0 435.6L522.5 444.6L533.5 444.6Z"/><path d="M531.2 435.6L525.7 444.6L536.7 444.6Z"/><path d="M530.2 445.8L524.7 454.8L535.7 454.8Z"/><path d="M532.8 445.8L527.3 454.8L538.3 454.8Z"/><path d="M532.4 456.5L526.9 465.5L537.9 465.5Z"/><path d="M534.4 456.5L528.9 465.5L539.9 465.5Z"/><path d="M534.5 466.6L529.0 475.6L540.0 475.6Z"/><path d="M536.5 466.6L531.0 475.6L542.0 475.6Z"/><path d="M536.6 475.3L531.1 484.3L542.1 484.3Z"/><path d="M538.4 475.3L532.9 484.3L543.9 484.3Z"/><path d="M538.6 484.6L533.1 493.6L544.1 493.6Z"/><path d="M540.4 484.6L534.9 493.6L545.9 493.6Z"/><path d="M540.6 494.7L535.1 503.7L546.1 503.7Z"/><path d="M542.2 494.7L536.7 503.7L547.7 503.7Z"/><path d="M542.1 506.0L536.6 515.0L547.6 515.0Z"/><path d="M574.1 506.0L568.6 515.0L579.6 515.0Z"/></g><g fill="#9400d3"><circle cx="95.6" cy="394.7" r="0.9"/><circle cx="95.6" cy="394.7" r="0.9"/><circle cx="99.4" cy="393.2" r="0.9"/><circle cx="102.6" cy="393.2" r="0.9"/><circle cx="102.4" cy="371.9" r="0.9"/><circle cx="112.1" cy="371.9" r="0.9"/><circle cx="112.2" cy="360.9" r="0.9"/><circle cx="119.6" cy="360.9" r="0.9"/><circle cx="119.6" cy="353.6" r="0.9"/><circle cx="124.4" cy="353.6" r="0.9"/><circle cx="124.4" cy="348.6" r="0.9"/><circle cx="129.4" cy="348.6" r="0.9"/><circle cx="129.4" cy="345.4" r="0.9"/><circle cx="134.0" cy="345.4" r="0.9"/><circle cx="134.0" cy="344.0" r="0.9"/><circle cx="138.5" cy="344.0" r="0.9"/><circle cx="138.5" cy="343.6" r="0.9"/><circle cx="143.0" cy="343.6" r="0.9"/><circle cx="143.0" cy="343.8" r="0.9"/><circle cx="147.5" cy="343.8" r="0.9"/><circle cx="147.5" cy="345.2" r="0.9"/><circle cx="151.5" cy="345.2" r="0.9"/><circle cx="151.5" cy="348.4" r="0.9"/><circle cx="155.5" cy="348.4" r="0.9"/><circle cx="155.5" cy="357.1" r="0.9"/><circle cx="162.2" cy="357.1" r="0.9"/><circle cx="162.2" cy="369.1" r="0.9"/><circle cx="167.6" cy="369.1" r="0.9"/><circle cx="167.6" cy="377.2" r="0.9"/><circle cx="172.0" cy="377.2" r="0.9"/><circle cx="170.0" cy="383.0" r="0.9"/><circle cx="174.5" cy="383.0" r="0.9"/><circle cx="172.7" cy="394.8" r="0.9"/><circle cx="180.8" cy="394.8" r="0.9"/><circle cx="180.8" cy="431.4" r="0.9"/><circle cx="190.1" cy="431.4" r="0.9"/><circle cx="190.1" cy="484.6" r="0.9"/><circle cx="196.1" cy="484.6" r="0.9"/><circle cx="195.5" cy="498.6" r="0.9"/><circle cx="197.5" cy="498.6" r="0.9"/><circle cx="196.6" cy="512.2" r="0.9"/><circle cx="196.6" cy="512.2" r="0.9"/><circle cx="332.7" cy="507.5" r="0.9"/><circle cx="332.7" cy="507.5" r="0.9"/><circle cx="335.7" cy="507.5" r="0.9"/><circle cx="335.7" cy="507.5" r="0.9"/><circle cx="338.4" cy="507.5" r="0.9"/><circle cx="338.4" cy="507.5" r="0.9"/><circle cx="379.4" cy="512.2" r="0.9"/><circle cx="379.4" cy="512.2" r="0.9"/><circle cx="379.6" cy="486.2" r="0.9"/><circle cx="380.3" cy="486.2" r="0.9"/><circle cx="380.8" cy="461.4" r="0.9"/><circle cx="381.8" cy="461.4" r="0.9"/><circle cx="382.7" cy="436.9" r="0.9"/><circle cx="387.4" cy="436.9" r="0.9"/><circle cx="386.1" cy="375.4" r="0.9"/><circle cx="391.4" cy="375.4" r="0.9"/><circle cx="391.4" cy="357.6" r="0.9"/><circle cx="400.1" cy="357.6" r="0.9"/><circle cx="400.0" cy="310.2" r="0.9"/><circle cx="413.4" cy="310.2" r="0.9"/><circle cx="413.4" cy="306.5" r="0.9"/><circle cx="417.4" cy="306.5" r="0.9"/><circle cx="418.2" cy="300.6" r="0.9"/><circle cx="422.7" cy="300.6" r="0.9"/><circle cx="422.7" cy="300.4" r="0.9"/><circle cx="427.2" cy="300.4" r="0.9"/><circle cx="429.0" cy="307.2" r="0.9"/><circle cx="434.5" cy="307.2" r="0.9"/><circle cx="438.3" cy="299.2" r="0.9"/><circle cx="445.3" cy="299.2" r="0.9"/><circle cx="445.3" cy="301.0" r="0.9"/><circle cx="452.5" cy="301.0" r="0.9"/><circle cx="453.5" cy="318.6" r="0.9"/><circle cx="457.5" cy="318.6" r="0.9"/><circle cx="457.5" cy="320.4" r="0.9"/><circle cx="462.0" cy="320.4" r="0.9"/><circle cx="462.0" cy="321.8" r="0.9"/><circle cx="467.0" cy="321.8" r="0.9"/><circle cx="467.0" cy="323.2" r="0.9"/><circle cx="472.0" cy="323.2" r="0.9"/><circle cx="472.0" cy="324.6" r="0.9"/><circle cx="477.0" cy="324.6" r="0.9"/><circle cx="477.0" cy="326.8" r="0.9"/><circle cx="482.0" cy="326.8" r="0.9"/><circle cx="482.0" cy="329.2" r="0.9"/><circle cx="487.0" cy="329.2" r="0.9"/><circle cx="487.0" cy="331.8" r="0.9"/><circle cx="492.4" cy="331.8" r="0.9"/><circle cx="492.4" cy="335.4" r="0.9"/><circle cx="496.4" cy="335.4" r="0.9"/><circle cx="496.4" cy="339.8" r="0.9"/><circle cx="500.1" cy="339.8" r="0.9"/><circle cx="500.1" cy="344.8" r="0.9"/><circle cx="503.5" cy="344.8" r="0.9"/><circle cx="503.5" cy="350.8" r="0.9"/><circle cx="506.8" cy="350.8" r="0.9"/><circle cx="506.8" cy="357.0" r="0.9"/><circle cx="510.0" cy="357.0" r="0.9"/><circle cx="510.0" cy="363.8" r="0.9"/><circle cx="513.4" cy="363.8" r="0.9"/><circle cx="513.4" cy="370.0" r="0.9"/><circle cx="516.0" cy="370.0" r="0.9"/><circle cx="516.0" cy="376.9" r="0.9"/><circle cx="518.8" cy="376.9" r="0.9"/><circle cx="518.1" cy="386.7" r="0.9"/><circle cx="522.1" cy="386.7" r="0.9"/><circle cx="520.8" cy="408.8" r="0.9"/><circle cx="524.8" cy="408.8" r="0.9"/><circle cx="523.5" cy="419.5" r="0.9"/><circle cx="526.8" cy="419.5" r="0.9"/><circle cx="526.2" cy="430.8" r="0.9"/><circle cx="529.5" cy="430.8" r="0.9"/><circle cx="528.0" cy="441.8" r="0.9"/><circle cx="531.2" cy="441.8" r="0.9"/><circle cx="530.2" cy="452.0" r="0.9"/><circle cx="532.8" cy="452.0" r="0.9"/><circle cx="532.4" cy="462.7" r="0.9"/><circle cx="534.4" cy="462.7" r="0.9"/><circle cx="534.5" cy="472.8" r="0.9"/><circle cx="536.5" cy="472.8" r="0.9"/><circle cx="536.6" cy="481.5" r="0.9"/><circle cx="538.4" cy="481.5" r="0.9"/><circle cx="538.6" cy="490.8" r="0.9"/><circle cx="540.4" cy="490.8" r="0.9"/><circle cx="540.6" cy="500.9" r="0.9"/><circle cx="542.2" cy="500.9" r="0.9"/><circle cx="542.1" cy="512.2" r="0.9"/><circle cx="574.1" cy="512.2" r="0.9"/></g>
<polyline fill="none" stroke="#000000" stroke-width="2.00" stroke-linejoin="miter" points="117.7,281.3 124.5,281.3 124.5,258.8 130.5,258.8 131.2,234.4 136.0,234.4 136.6,221.8 141.4,221.8 142.1,213.0 146.0,213.0"/>
<polyline fill="none" stroke="#000000" stroke-width="2.00" stroke-linejoin="miter" points="155.9,215.1 158.9,215.1"/>
<polyline fill="none" stroke="#000000" stroke-width="2.00" stroke-linejoin="miter" points="163.9,230.0 166.2,230.0 167.6,241.3 170.4,241.3 171.0,258.4 173.7,258.4 174.3,277.9 176.8,277.9 177.4,310.6 179.6,310.6 180.6,313.4 183.0,313.4 183.9,342.6 185.8,342.6 186.8,394.3 188.7,394.3"/>
<polyline fill="none" stroke="#000000" stroke-width="2.00" stroke-linejoin="miter" points="399.4,201.3 401.6,201.3 402.2,173.0 406.3,173.0 406.7,149.7 409.8,149.7 410.8,134.1 414.4,134.1 415.8,124.1 419.4,124.1 420.3,117.6 423.4,117.6 425.8,114.1 427.9,114.1 430.8,111.6 433.4,111.6 435.5,111.6 439.0,111.6 440.6,115.4 444.2,115.4 445.6,122.2 449.6,122.2 450.6,130.1 454.6,130.1 456.0,137.2 460.0,137.2 461.4,148.9 465.8,148.9 467.4,158.2 470.1,158.2 472.8,163.5 475.5,163.5 478.0,160.0 480.0,160.0 481.5,156.9 484.8,156.9 488.0,159.5 492.0,159.5 494.2,166.9 496.9,166.9 498.0,176.8 502.0,176.8 501.4,188.7 506.1,188.7 504.7,202.1 509.4,202.1 508.1,221.5 512.8,221.5"/>
<g fill="#000000"><circle cx="117.7" cy="281.3" r="4.7"/><circle cx="124.5" cy="281.3" r="4.7"/><circle cx="124.5" cy="258.8" r="4.7"/><circle cx="130.5" cy="258.8" r="4.7"/><circle cx="131.2" cy="234.4" r="4.7"/><circle cx="136.0" cy="234.4" r="4.7"/><circle cx="136.6" cy="221.8" r="4.7"/><circle cx="141.4" cy="221.8" r="4.7"/><circle cx="142.1" cy="213.0" r="4.7"/><circle cx="146.0" cy="213.0" r="4.7"/><circle cx="155.9" cy="215.1" r="4.7"/><circle cx="158.9" cy="215.1" r="4.7"/><circle cx="163.9" cy="230.0" r="4.7"/><circle cx="166.2" cy="230.0" r="4.7"/><circle cx="167.6" cy="241.3" r="4.7"/><circle cx="170.4" cy="241.3" r="4.7"/><circle cx="171.0" cy="258.4" r="4.7"/><circle cx="173.7" cy="258.4" r="4.7"/><circle cx="174.3" cy="277.9" r="4.7"/><circle cx="176.8" cy="277.9" r="4.7"/><circle cx="177.4" cy="310.6" r="4.7"/><circle cx="179.6" cy="310.6" r="4.7"/><circle cx="180.6" cy="313.4" r="4.7"/><circle cx="183.0" cy="313.4" r="4.7"/><circle cx="183.9" cy="342.6" r="4.7"/><circle cx="185.8" cy="342.6" r="4.7"/><circle cx="186.8" cy="394.3" r="4.7"/><circle cx="188.7" cy="394.3" r="4.7"/><circle cx="399.4" cy="201.3" r="4.7"/><circle cx="401.6" cy="201.3" r="4.7"/><circle cx="402.2" cy="173.0" r="4.7"/><circle cx="406.3" cy="173.0" r="4.7"/><circle cx="406.7" cy="149.7" r="4.7"/><circle cx="409.8" cy="149.7" r="4.7"/><circle cx="410.8" cy="134.1" r="4.7"/><circle cx="414.4" cy="134.1" r="4.7"/><circle cx="415.8" cy="124.1" r="4.7"/><circle cx="419.4" cy="124.1" r="4.7"/><circle cx="420.3" cy="117.6" r="4.7"/><circle cx="423.4" cy="117.6" r="4.7"/><circle cx="425.8" cy="114.1" r="4.7"/><circle cx="427.9" cy="114.1" r="4.7"/><circle cx="430.8" cy="111.6" r="4.7"/><circle cx="433.4" cy="111.6" r="4.7"/><circle cx="435.5" cy="111.6" r="4.7"/><circle cx="439.0" cy="111.6" r="4.7"/><circle cx="440.6" cy="115.4" r="4.7"/><circle cx="444.2" cy="115.4" r="4.7"/><circle cx="445.6" cy="122.2" r="4.7"/><circle cx="449.6" cy="122.2" r="4.7"/><circle cx="450.6" cy="130.1" r="4.7"/><circle cx="454.6" cy="130.1" r="4.7"/><circle cx="456.0" cy="137.2" r="4.7"/><circle cx="460.0" cy="137.2" r="4.7"/><circle cx="461.4" cy="148.9" r="4.7"/><circle cx="465.8" cy="148.9" r="4.7"/><circle cx="467.4" cy="158.2" r="4.7"/><circle cx="470.1" cy="158.2" r="4.7"/><circle cx="472.8" cy="163.5" r="4.7"/><circle cx="475.5" cy="163.5" r="4.7"/><circle cx="478.0" cy="160.0" r="4.7"/><circle cx="480.0" cy="160.0" r="4.7"/><circle cx="481.5" cy="156.9" r="4.7"/><circle cx="484.8" cy="156.9" r="4.7"/><circle cx="488.0" cy="159.5" r="4.7"/><circle cx="492.0" cy="159.5" r="4.7"/><circle cx="494.2" cy="166.9" r="4.7"/><circle cx="496.9" cy="166.9" r="4.7"/><circle cx="498.0" cy="176.8" r="4.7"/><circle cx="502.0" cy="176.8" r="4.7"/><circle cx="501.4" cy="188.7" r="4.7"/><circle cx="506.1" cy="188.7" r="4.7"/><circle cx="504.7" cy="202.1" r="4.7"/><circle cx="509.4" cy="202.1" r="4.7"/><circle cx="508.1" cy="221.5" r="4.7"/><circle cx="512.8" cy="221.5" r="4.7"/></g>
<rect x="95.8" y="36.0" width="478.3" height="478.0" fill="none" stroke="#000" stroke-width="2.2"/>
<polyline fill="none" stroke="#0000ff" stroke-width="2.00" stroke-linejoin="miter" points="339.7,54.9 391.6,54.9"/>
<g fill="none" stroke="#0000ff" stroke-width="2.00"><rect x="361.6" y="50.9" width="8.0" height="8.0"/></g><g fill="#0000ff"><circle cx="365.6" cy="54.9" r="0.9"/></g>
<polyline fill="none" stroke="#ff0000" stroke-width="2.00" stroke-linejoin="miter" points="339.7,74.2 391.6,74.2"/>
<g fill="none" stroke="#ff0000" stroke-width="2.00"><circle cx="365.6" cy="74.2" r="4.0"/></g><g fill="#ff0000"><circle cx="365.6" cy="74.2" r="0.9"/></g>
<polyline fill="none" stroke="#9400d3" stroke-width="2.00" stroke-linejoin="miter" points="339.7,93.8 391.6,93.8"/>
<g fill="none" stroke="#9400d3" stroke-width="2.00" stroke-linejoin="miter"><path d="M365.6 87.6L360.1 96.6L371.1 96.6Z"/></g><g fill="#9400d3"><circle cx="365.6" cy="93.8" r="0.9"/></g>
<polyline fill="none" stroke="#000000" stroke-width="2.00" stroke-linejoin="miter" points="339.7,113.0 391.6,113.0"/>
<g fill="#000000"><circle cx="365.6" cy="113.0" r="4.7"/></g>
<g opacity="0.999">
<text x="95.8" y="538.8" text-anchor="middle" style="font-family:'Liberation Serif',serif;fill:#111;font-size:18.6px" >0</text>
<text x="164.1" y="538.8" text-anchor="middle" style="font-family:'Liberation Serif',serif;fill:#111;font-size:18.6px" >1</text>
<text x="232.5" y="538.8" text-anchor="middle" style="font-family:'Liberation Serif',serif;fill:#111;font-size:18.6px" >2</text>
<text x="300.8" y="538.8" text-anchor="middle" style="font-family:'Liberation Serif',serif;fill:#111;font-size:18.6px" >3</text>
<text x="369.1" y="538.8" text-anchor="middle" style="font-family:'Liberation Serif',serif;fill:#111;font-size:18.6px" >4</text>
<text x="437.4" y="538.8" text-anchor="middle" style="font-family:'Liberation Serif',serif;fill:#111;font-size:18.6px" >5</text>
<text x="505.8" y="538.8" text-anchor="middle" style="font-family:'Liberation Serif',serif;fill:#111;font-size:18.6px" >6</text>
<text x="574.1" y="538.8" text-anchor="middle" style="font-family:'Liberation Serif',serif;fill:#111;font-size:18.6px" >7</text>
<text x="82.9" y="516.9" text-anchor="end" style="font-family:'Liberation Serif',serif;fill:#111;font-size:18.6px" >0</text>
<text x="82.9" y="421.7" text-anchor="end" style="font-family:'Liberation Serif',serif;fill:#111;font-size:18.6px" >0.002</text>
<text x="82.9" y="326.5" text-anchor="end" style="font-family:'Liberation Serif',serif;fill:#111;font-size:18.6px" >0.004</text>
<text x="82.9" y="231.3" text-anchor="end" style="font-family:'Liberation Serif',serif;fill:#111;font-size:18.6px" >0.006</text>
<text x="82.9" y="136.1" text-anchor="end" style="font-family:'Liberation Serif',serif;fill:#111;font-size:18.6px" >0.008</text>
<text x="82.9" y="40.9" text-anchor="end" style="font-family:'Liberation Serif',serif;fill:#111;font-size:18.6px" >0.01</text>
<text x="128.6" y="59.9" text-anchor="start" style="font-family:'Liberation Serif',serif;fill:#111;font-size:18.6px;font-style:italic" >L</text><text x="139.3" y="62.6" text-anchor="start" style="font-family:'Liberation Serif',serif;fill:#111;font-size:15.5px;font-style:italic" >x</text><path d="M156.6 50.8L165.6 59.8M156.6 59.8L165.6 50.8" stroke="#111" stroke-width="0.9" fill="none"/><text x="174.6" y="59.9" text-anchor="start" style="font-family:'Liberation Serif',serif;fill:#111;font-size:18.6px;font-style:italic" >L</text><text x="185.3" y="62.6" text-anchor="start" style="font-family:'Liberation Serif',serif;fill:#111;font-size:15.5px;font-style:italic" >y</text><path d="M200.6 53.3H214.0M200.6 57.3H214.0" stroke="#111" stroke-width="0.9" fill="none"/><text x="221.2" y="59.9" text-anchor="start" style="font-family:'Liberation Serif',serif;fill:#111;font-size:18.6px" >24</text><path d="M245.7 50.8L254.7 59.8M245.7 59.8L254.7 50.8" stroke="#111" stroke-width="0.9" fill="none"/><text x="263.4" y="59.9" text-anchor="start" style="font-family:'Liberation Serif',serif;fill:#111;font-size:18.6px" >6</text><text x="273.2" y="59.9" text-anchor="start" style="font-family:'Liberation Serif',serif;fill:#111;font-size:18.6px" >,</text><text x="282.4" y="59.9" text-anchor="start" style="font-family:'Liberation Serif',serif;fill:#111;font-size:19.1px;font-style:italic" >λ</text><path d="M298.6 53.3H312.0M298.6 57.3H312.0" stroke="#111" stroke-width="0.9" fill="none"/><text x="327.2" y="59.9" text-anchor="end" style="font-family:'Liberation Serif',serif;fill:#111;font-size:18.6px" >0</text>
<text x="128.6" y="79.2" text-anchor="start" style="font-family:'Liberation Serif',serif;fill:#111;font-size:18.6px;font-style:italic" >L</text><text x="139.3" y="81.9" text-anchor="start" style="font-family:'Liberation Serif',serif;fill:#111;font-size:15.5px;font-style:italic" >x</text><path d="M156.6 70.1L165.6 79.1M156.6 79.1L165.6 70.1" stroke="#111" stroke-width="0.9" fill="none"/><text x="174.6" y="79.2" text-anchor="start" style="font-family:'Liberation Serif',serif;fill:#111;font-size:18.6px;font-style:italic" >L</text><text x="185.3" y="81.9" text-anchor="start" style="font-family:'Liberation Serif',serif;fill:#111;font-size:15.5px;font-style:italic" >y</text><path d="M200.6 72.6H214.0M200.6 76.6H214.0" stroke="#111" stroke-width="0.9" fill="none"/><text x="221.2" y="79.2" text-anchor="start" style="font-family:'Liberation Serif',serif;fill:#111;font-size:18.6px" >48</text><path d="M245.7 70.1L254.7 79.1M245.7 79.1L254.7 70.1" stroke="#111" stroke-width="0.9" fill="none"/><text x="263.4" y="79.2" text-anchor="start" style="font-family:'Liberation Serif',serif;fill:#111;font-size:18.6px" >6</text><text x="273.2" y="79.2" text-anchor="start" style="font-family:'Liberation Serif',serif;fill:#111;font-size:18.6px" >,</text><text x="282.4" y="79.2" text-anchor="start" style="font-family:'Liberation Serif',serif;fill:#111;font-size:19.1px;font-style:italic" >λ</text><path d="M298.6 72.6H312.0M298.6 76.6H312.0" stroke="#111" stroke-width="0.9" fill="none"/><text x="327.2" y="79.2" text-anchor="end" style="font-family:'Liberation Serif',serif;fill:#111;font-size:18.6px" >0</text>
<text x="128.6" y="98.8" text-anchor="start" style="font-family:'Liberation Serif',serif;fill:#111;font-size:18.6px;font-style:italic" >L</text><text x="139.3" y="101.5" text-anchor="start" style="font-family:'Liberation Serif',serif;fill:#111;font-size:15.5px;font-style:italic" >x</text><path d="M156.6 89.7L165.6 98.7M156.6 98.7L165.6 89.7" stroke="#111" stroke-width="0.9" fill="none"/><text x="174.6" y="98.8" text-anchor="start" style="font-family:'Liberation Serif',serif;fill:#111;font-size:18.6px;font-style:italic" >L</text><text x="185.3" y="101.5" text-anchor="start" style="font-family:'Liberation Serif',serif;fill:#111;font-size:15.5px;font-style:italic" >y</text><path d="M200.6 92.2H214.0M200.6 96.2H214.0" stroke="#111" stroke-width="0.9" fill="none"/><text x="221.2" y="98.8" text-anchor="start" style="font-family:'Liberation Serif',serif;fill:#111;font-size:18.6px" >36</text><path d="M245.7 89.7L254.7 98.7M245.7 98.7L254.7 89.7" stroke="#111" stroke-width="0.9" fill="none"/><text x="263.4" y="98.8" text-anchor="start" style="font-family:'Liberation Serif',serif;fill:#111;font-size:18.6px" >9</text><text x="273.2" y="98.8" text-anchor="start" style="font-family:'Liberation Serif',serif;fill:#111;font-size:18.6px" >,</text><text x="282.4" y="98.8" text-anchor="start" style="font-family:'Liberation Serif',serif;fill:#111;font-size:19.1px;font-style:italic" >λ</text><path d="M298.6 92.2H312.0M298.6 96.2H312.0" stroke="#111" stroke-width="0.9" fill="none"/><text x="327.2" y="98.8" text-anchor="end" style="font-family:'Liberation Serif',serif;fill:#111;font-size:18.6px" >0</text>
<text x="104.2" y="118.0" text-anchor="start" style="font-family:'Liberation Serif',serif;fill:#111;font-size:18.6px;font-style:italic" >L</text><text x="114.9" y="120.7" text-anchor="start" style="font-family:'Liberation Serif',serif;fill:#111;font-size:15.5px;font-style:italic" >x</text><path d="M132.2 108.9L141.2 117.9M132.2 117.9L141.2 108.9" stroke="#111" stroke-width="0.9" fill="none"/><text x="150.2" y="118.0" text-anchor="start" style="font-family:'Liberation Serif',serif;fill:#111;font-size:18.6px;font-style:italic" >L</text><text x="160.9" y="120.7" text-anchor="start" style="font-family:'Liberation Serif',serif;fill:#111;font-size:15.5px;font-style:italic" >y</text><path d="M176.2 111.4H189.6M176.2 115.4H189.6" stroke="#111" stroke-width="0.9" fill="none"/><text x="196.8" y="118.0" text-anchor="start" style="font-family:'Liberation Serif',serif;fill:#111;font-size:18.6px" >48</text><path d="M221.3 108.9L230.3 117.9M221.3 117.9L230.3 108.9" stroke="#111" stroke-width="0.9" fill="none"/><text x="239.0" y="118.0" text-anchor="start" style="font-family:'Liberation Serif',serif;fill:#111;font-size:18.6px" >6</text><text x="248.8" y="118.0" text-anchor="start" style="font-family:'Liberation Serif',serif;fill:#111;font-size:18.6px" >,</text><text x="258.0" y="118.0" text-anchor="start" style="font-family:'Liberation Serif',serif;fill:#111;font-size:19.1px;font-style:italic" >λ</text><path d="M274.2 111.4H287.6M274.2 115.4H287.6" stroke="#111" stroke-width="0.9" fill="none"/><text x="327.2" y="118.0" text-anchor="end" style="font-family:'Liberation Serif',serif;fill:#111;font-size:18.6px" >0.95</text>
<text x="325.6" y="567.4" text-anchor="start" style="font-family:'Liberation Serif',serif;fill:#111;font-size:19.5px;font-style:italic" >h</text>
<text x="335.8" y="570.3" text-anchor="start" style="font-family:'Liberation Serif',serif;fill:#111;font-size:14.0px;font-style:italic" >z</text>
<g transform="translate(31.1,306.6) rotate(-90)">
<text x="-0.8" y="0.0" text-anchor="start" style="font-family:'Liberation Serif',serif;fill:#111;font-size:21.5px" >Δ</text>
<text x="14.6" y="0.0" text-anchor="start" style="font-family:'Liberation Serif',serif;fill:#111;font-size:22.5px;font-style:italic" >E</text>
<text x="30.0" y="3.4" text-anchor="start" style="font-family:'Liberation Serif',serif;fill:#111;font-size:14.0px" >0</text>
<text x="37.6" y="0.6" text-anchor="start" style="font-family:'Liberation Serif',serif;fill:#111;font-size:21.5px" >(</text>
<text x="45.0" y="0.0" text-anchor="start" style="font-family:'Liberation Serif',serif;fill:#111;font-size:20.5px;font-style:italic" >π</text>
<text x="56.0" y="0.6" text-anchor="start" style="font-family:'Liberation Serif',serif;fill:#111;font-size:21.5px" >)</text>
</g>
</g>
</svg>
</body></html>
